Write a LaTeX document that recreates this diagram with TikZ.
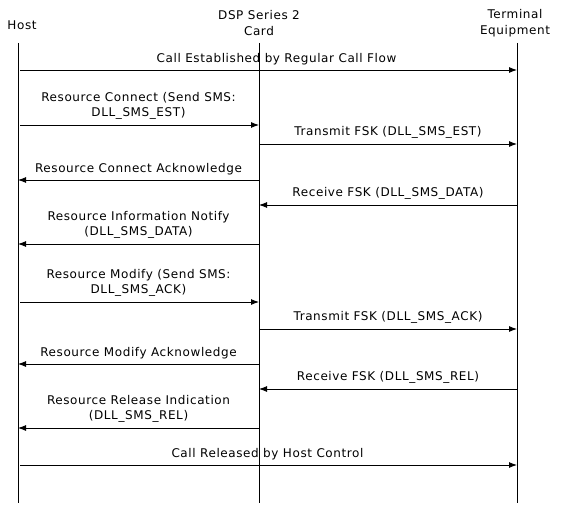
\documentclass[tikz,border=0pt]{standalone}
\usepackage{fontspec}
\newfontfamily\seqfont[LetterSpace=5]{DejaVu Sans}
\usetikzlibrary{arrows.meta,positioning}
\tikzset{
  life/.style={black, line width=0.9bp},
  msg/.style={-{Latex[length=8bp,width=6bp]}, black, line width=0.9bp},
  mlab/.style={font=\seqfont\fontsize{12bp}{15.5bp}\selectfont, align=center, inner sep=2bp, above=3bp},
  hdr/.style={font=\seqfont\fontsize{12bp}{16bp}\selectfont, align=center, inner sep=0pt},
}

\begin{document}
\begin{tikzpicture}[x=1bp, y=1bp]
  \useasboundingbox (0,0) rectangle (562,-518);
  \node[hdr] (hostH) at (22,-25) {Host};
  \node[hdr] (cardH) at (259,-23) {DSP Series 2\\Card};
  \node[hdr] (termH) at (515,-23) {Terminal\\Equipment};
  \coordinate (host) at (18,-43);  \coordinate (hostEnd) at (18,-503);
  \coordinate (card) at (259,-43); \coordinate (cardEnd) at (259,-503);
  \coordinate (term) at (517,-43); \coordinate (termEnd) at (517,-503);
  \draw[life] (host) -- (hostEnd);
  \draw[life] (card) -- (cardEnd);
  \draw[life] (term) -- (termEnd);
  \coordinate (r1) at (0,-70);   \coordinate (r2) at (0,-125);
  \coordinate (r3) at (0,-144);  \coordinate (r4) at (0,-180);
  \coordinate (r5) at (0,-205);  \coordinate (r6) at (0,-244);
  \coordinate (r7) at (0,-302);  \coordinate (r8) at (0,-329);
  \coordinate (r9) at (0,-364);  \coordinate (r10) at (0,-389);
  \coordinate (r11) at (0,-428); \coordinate (r12) at (0,-465);
  \draw[msg, shorten <=2bp] (host |- r1) -- node[mlab, xshift=9bp] (m1) {Call Established by Regular Call Flow} (term |- r1);
  \draw[msg, shorten <=2bp] (host |- r2) -- node[mlab] (m2) {Resource Connect (Send SMS:\\DLL\_SMS\_EST)} (card |- r2);
  \draw[msg, shorten <=1bp] (card |- r3) -- node[mlab] (m3) {Transmit FSK (DLL\_SMS\_EST)} (term |- r3);
  \draw[msg] (card |- r4) -- node[mlab] (m4) {Resource Connect Acknowledge} (host |- r4);
  \draw[msg] (term |- r5) -- node[mlab] (m5) {Receive FSK (DLL\_SMS\_DATA)} (card |- r5);
  \draw[msg] (card |- r6) -- node[mlab] (m6) {Resource Information Notify\\(DLL\_SMS\_DATA)} (host |- r6);
  \draw[msg, shorten <=2bp] (host |- r7) -- node[mlab] (m7) {Resource Modify (Send SMS:\\DLL\_SMS\_ACK)} (card |- r7);
  \draw[msg, shorten <=1bp] (card |- r8) -- node[mlab] (m8) {Transmit FSK (DLL\_SMS\_ACK)} (term |- r8);
  \draw[msg] (card |- r9) -- node[mlab] (m9) {Resource Modify Acknowledge} (host |- r9);
  \draw[msg] (term |- r10) -- node[mlab] (m10) {Receive FSK (DLL\_SMS\_REL)} (card |- r10);
  \draw[msg] (card |- r11) -- node[mlab] (m11) {Resource Release Indication\\(DLL\_SMS\_REL)} (host |- r11);
  \draw[msg, shorten <=2bp] (host |- r12) -- node[mlab] (m12) {Call Released by Host Control} (term |- r12);
\end{tikzpicture}
\end{document}
